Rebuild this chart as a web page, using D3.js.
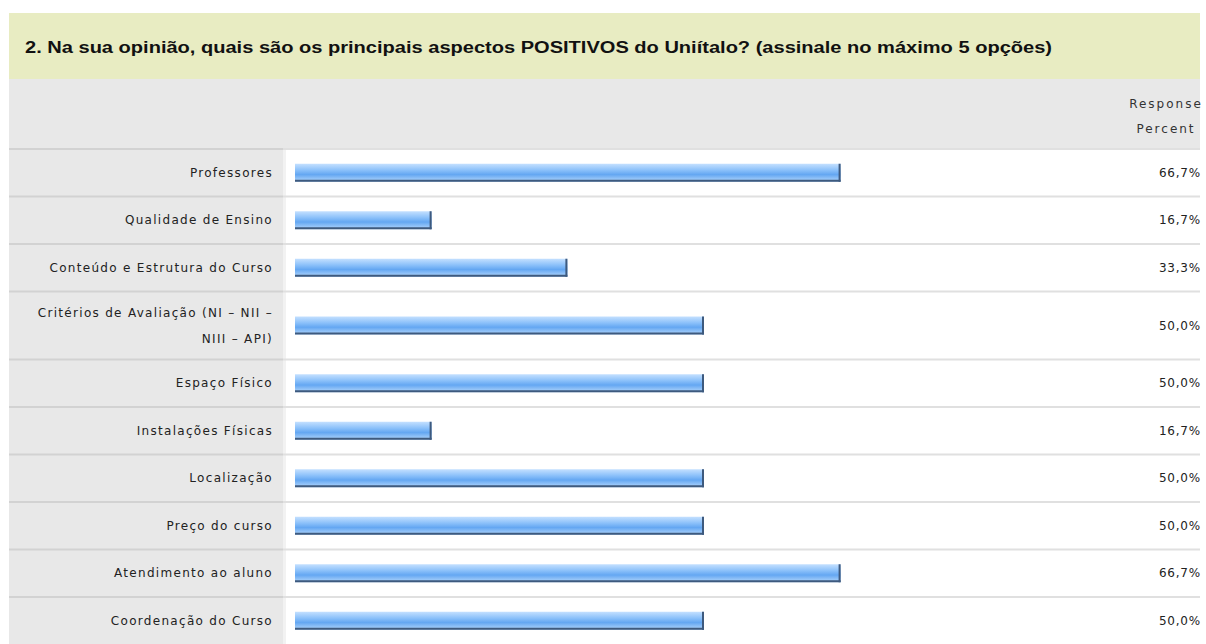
<!DOCTYPE html>
<html>
<head>
<meta charset="utf-8">
<script src="https://cdn.jsdelivr.net/npm/d3@7"></script>
<style>
  body { margin: 0; background: #fff; }
  text { font-family: "DejaVu Sans", Verdana, sans-serif; }
  text.title { font-family: "Liberation Sans", Arial, sans-serif; }
</style>
</head>
<body>
<script>
const WIDTH = 1206;
const HEIGHT = 644;
const LEFT = 9;
const RIGHT = 1200;
const LABEL_COL = 283;
const TITLE = "2. Na sua opinião, quais são os principais aspectos POSITIVOS do Uniítalo? (assinale no máximo 5 opções)";
const HEADER = ["Response", "Percent"];

// answer categories (each entry = lines of the label)
const CATEGORIES = [["Professores"],
                    ["Qualidade de Ensino"],
                    ["Conteúdo e Estrutura do Curso"],
                    ["Critérios de Avaliação (NI – NII –", "NIII – API)"],
                    ["Espaço Físico"],
                    ["Instalações Físicas"],
                    ["Localização"],
                    ["Preço do curso"],
                    ["Atendimento ao aluno"],
                    ["Coordenação do Curso"]];
const PERCENTS = [66.7, 16.7, 33.3, 50.0, 50.0, 16.7, 50.0, 50.0, 66.7, 50.0];

const svg = d3.select("body")
              .append("svg")
              .attr("width", WIDTH)
              .attr("height", HEIGHT);

//gradient for the bars
const defs = svg.append("defs");
const grad = defs.append("linearGradient")
                 .attr("id", "barGrad")
                 .attr("x1", 0).attr("y1", 0).attr("x2", 0).attr("y2", 1);
[[0, "#c4e0ff"], [0.35, "#8cc1fa"], [0.6, "#64a7f2"], [1, "#b4d7fc"]]
  .forEach(d => grad.append("stop").attr("offset", d[0]).attr("stop-color", d[1]));

//title band
svg.append("rect")
   .attr("x", LEFT).attr("y", 13)
   .attr("width", RIGHT - LEFT).attr("height", 66)
   .attr("fill", "#e8ecc2");

svg.append("text")
   .attr("class", "title")
   .attr("x", 25).attr("y", 53)
   .attr("font-weight", "bold")
   .attr("font-size", 16)
   .attr("fill", "#111")
   .attr("textLength", 1027)
   .attr("lengthAdjust", "spacingAndGlyphs")
   .text(TITLE);

//header band
const TOP = 149;
svg.append("rect")
   .attr("x", LEFT).attr("y", 79)
   .attr("width", RIGHT - LEFT).attr("height", TOP - 79)
   .attr("fill", "#e8e8e8");

svg.selectAll(".hdr")
   .data(HEADER)
   .enter()
   .append("text")
   .attr("class", "hdr")
   .attr("x", 1166)
   .attr("y", (d, i) => 108 + i * 25)
   .attr("text-anchor", "middle")
   .attr("font-size", 12)
   .attr("letter-spacing", 2)
   .attr("fill", "#333")
   .text(d => d);

//row layout from the number of label lines
const rowH = n => 27 + 20.5 * n;
const rows = [];
let yPos = TOP;
CATEGORIES.forEach((c, i) => {
  rows.push({ lines: c, value: PERCENTS[i], y: yPos, h: rowH(c.length) });
  yPos += rowH(c.length);
});

const xScale = d3.scaleLinear().domain([0, 100]).range([295, 1113]);

//background columns
svg.append("rect")
   .attr("x", LEFT).attr("y", TOP)
   .attr("width", LABEL_COL - LEFT).attr("height", HEIGHT - TOP)
   .attr("fill", "#e8e8e8");
svg.append("rect")
   .attr("x", LABEL_COL).attr("y", TOP)
   .attr("width", 3).attr("height", HEIGHT - TOP)
   .attr("fill", "#f2f2f2");

const row = svg.selectAll(".row")
               .data(rows)
               .enter()
               .append("g")
               .attr("class", "row")
               .attr("transform", d => "translate(0," + d.y + ")");

//separators
row.append("rect")
   .attr("x", LEFT).attr("y", -1)
   .attr("width", LABEL_COL - LEFT).attr("height", 2)
   .attr("fill", "#d2d2d2");
row.append("rect")
   .attr("x", LABEL_COL).attr("y", -1)
   .attr("width", RIGHT - LABEL_COL).attr("height", 2)
   .attr("fill", "#e0e0e0");

//labels
row.each(function(d) {
  const g = d3.select(this);
  const n = d.lines.length;
  d.lines.forEach((t, j) => {
    g.append("text")
     .attr("x", 273)
     .attr("y", d.h / 2 + 4 + (j - (n - 1) / 2) * 26)
     .attr("text-anchor", "end")
     .attr("font-size", 12)
     .attr("letter-spacing", 1.3)
     .attr("fill", "#222")
     .text(t);
  });
});

//bars
const BAR_H = 18;
row.append("rect")
   .attr("x", xScale(0))
   .attr("y", d => d.h / 2 - BAR_H / 2)
   .attr("width", d => xScale(d.value) - xScale(0))
   .attr("height", BAR_H)
   .attr("fill", "url(#barGrad)");
row.append("rect")
   .attr("x", xScale(0))
   .attr("y", d => d.h / 2 + BAR_H / 2 - 2)
   .attr("width", d => xScale(d.value) - xScale(0))
   .attr("height", 2)
   .attr("fill", "#3e5a7e");
row.append("rect")
   .attr("x", d => xScale(d.value) - 2)
   .attr("y", d => d.h / 2 - BAR_H / 2)
   .attr("width", 2)
   .attr("height", BAR_H)
   .attr("fill", "#3e5a7e");

//percent values
row.append("text")
   .attr("x", 1201)
   .attr("y", d => d.h / 2 + 4)
   .attr("text-anchor", "end")
   .attr("font-size", 12)
   .attr("letter-spacing", 0.8)
   .attr("fill", "#222")
   .text(d => d.value.toFixed(1).replace(".", ",") + "%");
</script>
</body>
</html>
